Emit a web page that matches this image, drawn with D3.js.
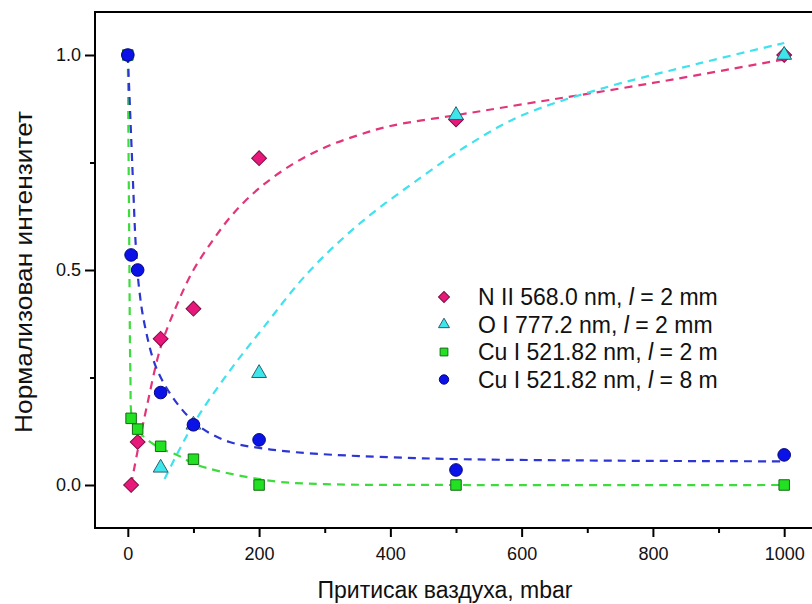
<!DOCTYPE html>
<html>
<head>
<meta charset="utf-8">
<script src="https://cdn.jsdelivr.net/npm/d3@7"></script>
<style>
  body { margin: 0; background: #fff; }
  text { font-family: "Liberation Sans", Arial, sans-serif; }
</style>
</head>
<body>
<main></main>
<script>
// measured points
const nIIx = [5, 15, 50, 100, 200, 500, 1000];
const nIIy = [0.0, 0.1, 0.34, 0.41, 0.76, 0.85, 1.0];
const oIx = [50, 100, 200, 500, 1000];
const oIy = [0.04, 0.14, 0.26, 0.86, 1.0];
const cu2x = [0, 5, 15, 50, 100, 200, 500, 1000];
const cu2y = [1.0, 0.155, 0.13, 0.09, 0.06, 0.0, 0.0, 0.0];
const cu8x = [0, 5, 15, 50, 100, 200, 500, 1000];
const cu8y = [1.0, 0.535, 0.5, 0.215, 0.14, 0.105, 0.035, 0.07];

// fit curves
const nIIfitX = [5, 15, 30, 50, 75, 100, 130, 160, 200, 250, 300, 350, 400, 500, 600, 800, 1000];
const nIIfitY = [0.0, 0.08, 0.19, 0.32, 0.42, 0.5, 0.57, 0.63, 0.69, 0.745, 0.785, 0.813, 0.835, 0.86, 0.885, 0.935, 0.99];
const oIfitX = [56, 100, 155, 206, 274, 354, 450, 521, 598, 720, 872, 1000];
const oIfitY = [0.014, 0.142, 0.265, 0.365, 0.493, 0.609, 0.719, 0.793, 0.858, 0.921, 0.981, 1.028];
const cu2fitX = [0, 2, 4, 6, 12, 23, 50, 75, 100, 145, 227, 300, 500, 1000];
const cu2fitY = [1.0, 0.6, 0.25, 0.16, 0.135, 0.114, 0.085, 0.07, 0.05, 0.03, 0.008, 0.002, 0.0, 0.0];
const cu8fitX = [0, 4, 8, 12, 17, 26, 44, 75, 110, 155, 206, 274, 450, 700, 1000];
const cu8fitY = [1.0, 0.85, 0.7, 0.56, 0.46, 0.37, 0.27, 0.19, 0.135, 0.1, 0.085, 0.074, 0.062, 0.057, 0.055];

const xTicks = [0, 200, 400, 600, 800, 1000];
const xMinor = [100, 300, 500, 700, 900];
const yTicks = [0.0, 0.5, 1.0];
const yMinor = [0.25, 0.75];

const legendLabels = [
  ["N II 568.0 nm, ", "l", " = 2 mm"],
  ["O I 777.2 nm, ", "l", " = 2 mm"],
  ["Cu I 521.82 nm, ", "l", " = 2 m"],
  ["Cu I 521.82 nm, ", "l", " = 8 m"],
];

const width = 812;
const height = 604;
const margin = { top: 12, right: -5, bottom: 76, left: 95 };

const svg = d3.select("main").append("svg").attr("width", width).attr("height", height);

const xScale = d3.scaleLinear().domain([-50, 1050]).range([margin.left, width - margin.right]);
const yScale = d3.scaleLinear().domain([-0.1, 1.1]).range([height - margin.bottom, margin.top]);

const series = [
  { x: nIIx, y: nIIy, fx: nIIfitX, fy: nIIfitY, line: "#e2357a", fill: "#e8187a", stroke: "#7a0c40", shape: "diamond" },
  { x: oIx, y: oIy, fx: oIfitX, fy: oIfitY, line: "#3fe2ee", fill: "#3ee6ea", stroke: "#2a5f70", shape: "triangle" },
  { x: cu2x, y: cu2y, fx: cu2fitX, fy: cu2fitY, line: "#3ddc3d", fill: "#22e022", stroke: "#126a12", shape: "square" },
  { x: cu8x, y: cu8y, fx: cu8fitX, fy: cu8fitY, line: "#2d35d2", fill: "#0a12e8", stroke: "#06067a", shape: "circle" },
];

const symbolFor = (shape, scale) => {
  if (shape === "diamond") return d3.symbol(d3.symbolSquare, 110 * scale)();
  if (shape === "triangle") return d3.symbol(d3.symbolTriangle, 95 * scale)();
  if (shape === "square") return d3.symbol(d3.symbolSquare, 110 * scale)();
  return d3.symbol(d3.symbolCircle, 125 * scale)();
};

// axes
const xAxis = d3.axisBottom(xScale).tickValues(xTicks).tickSize(9).tickPadding(10).tickFormat(d3.format("d"));
const xAxisMinor = d3.axisBottom(xScale).tickValues(xMinor).tickSize(5).tickFormat("");
const yAxis = d3.axisLeft(yScale).tickValues(yTicks).tickSize(10).tickPadding(4).tickFormat(d3.format(".1f"));
const yAxisMinor = d3.axisLeft(yScale).tickValues(yMinor).tickSize(5).tickFormat("");

svg.append("g").attr("transform", `translate(0, ${height - margin.bottom})`).call(xAxis);
svg.append("g").attr("transform", `translate(0, ${height - margin.bottom})`).call(xAxisMinor);
svg.append("g").attr("transform", `translate(${margin.left}, 0)`).call(yAxis);
svg.append("g").attr("transform", `translate(${margin.left}, 0)`).call(yAxisMinor);

svg.selectAll(".domain").remove();
svg.selectAll(".tick line").attr("stroke", "#000").attr("stroke-width", 2);
svg.selectAll(".tick text").style("font-size", "18px").attr("fill", "#111");

svg
  .append("rect")
  .attr("x", margin.left)
  .attr("y", margin.top)
  .attr("width", width - margin.right - margin.left)
  .attr("height", height - margin.bottom - margin.top)
  .attr("fill", "none")
  .attr("stroke", "#000")
  .attr("stroke-width", 2);

// fit lines
const line = d3
  .line()
  .x((d) => xScale(d[0]))
  .y((d) => yScale(d[1]))
  .curve(d3.curveCatmullRom.alpha(0.5));

series.forEach((s) => {
  svg
    .append("path")
    .datum(d3.zip(s.fx, s.fy))
    .attr("d", line)
    .attr("fill", "none")
    .attr("stroke", s.line)
    .attr("stroke-width", 2.2)
    .attr("stroke-dasharray", "8,6");
});

// markers
series.forEach((s) => {
  svg
    .append("g")
    .selectAll("path")
    .data(d3.zip(s.x, s.y))
    .enter()
    .append("path")
    .attr("d", symbolFor(s.shape, 1))
    .attr("transform", (d) => {
      const rot = s.shape === "diamond" ? " rotate(45)" : "";
      return `translate(${xScale(d[0])}, ${yScale(d[1])})${rot}`;
    })
    .attr("fill", s.fill)
    .attr("stroke", s.stroke)
    .attr("stroke-width", 1);
});

// legend
const legend = svg.append("g").attr("transform", "translate(444, 297)");
series.forEach((s, i) => {
  const row = legend.append("g").attr("transform", `translate(0, ${i * 27.5})`);
  row
    .append("path")
    .attr("d", symbolFor(s.shape, 0.55))
    .attr("transform", s.shape === "diamond" ? "rotate(45)" : null)
    .attr("fill", s.fill)
    .attr("stroke", s.stroke)
    .attr("stroke-width", 1);
  const t = row.append("text").attr("x", 34).attr("y", 8).style("font-size", "23px").attr("fill", "#111");
  t.append("tspan").text(legendLabels[i][0]);
  t.append("tspan").style("font-style", "italic").text(legendLabels[i][1]);
  t.append("tspan").text(legendLabels[i][2]);
});

// titles
svg
  .append("text")
  .attr("x", 445)
  .attr("y", 598)
  .attr("text-anchor", "middle")
  .style("font-size", "23px")
  .attr("fill", "#111")
  .text("Притисак ваздуха, mbar");

svg
  .append("text")
  .attr("transform", "translate(32, 272) rotate(-90)")
  .attr("text-anchor", "middle")
  .attr("textLength", 322)
  .attr("lengthAdjust", "spacingAndGlyphs")
  .style("font-size", "23px")
  .attr("fill", "#111")
  .text("Нормализован интензитет");
</script>
</body>
</html>
